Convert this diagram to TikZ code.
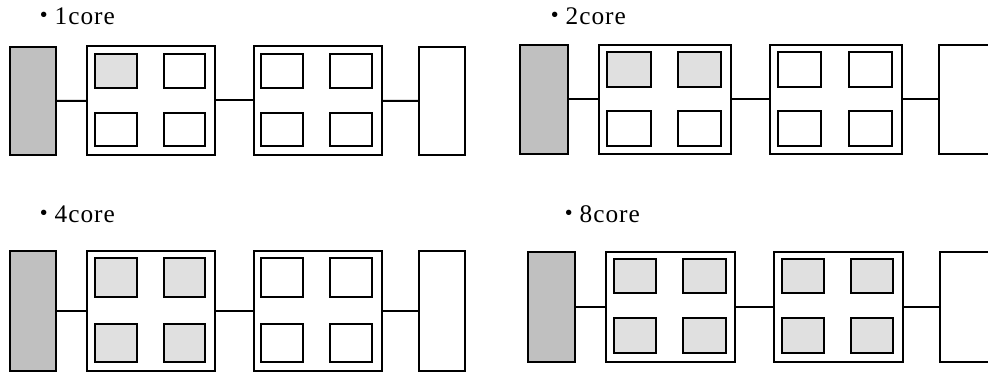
\documentclass[tikz,border=0pt]{standalone}
\usepackage{fontspec}
\setmainfont{Liberation Serif}[LetterSpace=4]
\newfontfamily\jpfont{Noto Sans CJK JP}
\usetikzlibrary{positioning,fit}
\definecolor{cpugray}{HTML}{C0C0C0}
\definecolor{coregray}{HTML}{E0E0E0}

\begin{document}
\begin{tikzpicture}[x=0.75pt, y=-0.75pt,
    cpu/.style={rectangle, draw, line width=1.5pt, fill=cpugray, inner sep=0pt},
    board/.style={rectangle, draw, line width=1.5pt, fill=white, inner sep=0pt},
    core/.style={rectangle, draw, line width=1.4pt, fill=white, inner sep=0pt},
    coreon/.style={core, fill=coregray},
    wire/.style={draw, line width=1.5pt},
    caption/.style={anchor=base west, inner sep=0pt, font=\fontsize{19pt}{21pt}\selectfont}]

    \useasboundingbox (0,0) rectangle (988,373);

    % 1core
    \node [caption] (t1) at (31,25) {{\jpfont ・}\kern-1.5pt 1core};
    \node [cpu, fit={(10,47) (56,155)}] (cpu1) {};
    \node [board, fit={(87,46) (215,155)}] (a1) {};
    \node [board, fit={(254,46) (382,155)}] (b1) {};
    \node [board, fit={(419,47) (465,155)}] (m1) {};
    \foreach \n/\xa/\ya/\xb/\yb/\st in {1/95/54/137/88/coreon, 2/164/54/205/88/core,
                                        3/95/113/137/146/core, 4/164/113/205/146/core}
        \node [\st, fit={(\xa,\ya) (\xb,\yb)}] (a1c\n) {};
    \foreach \n/\xa/\ya/\xb/\yb/\st in {1/261/54/303/88/core, 2/330/54/372/88/core,
                                        3/261/113/303/146/core, 4/330/113/372/146/core}
        \node [\st, fit={(\xa,\ya) (\xb,\yb)}] (b1c\n) {};
    \draw [wire] (cpu1) -- (a1);
    \draw [wire] (a1) -- (b1);
    \draw [wire] (b1) -- (m1);

    % 2core
    \node [caption] (t2) at (542,25) {{\jpfont ・}\kern-1.5pt 2core};
    \node [cpu, fit={(520,45) (568,154)}] (cpu2) {};
    \node [board, fit={(599,45) (731,154)}] (a2) {};
    \node [board, fit={(770,45) (902,154)}] (b2) {};
    \node [board, fit={(939,45) (992,154)}] (m2) {};
    \foreach \n/\xa/\ya/\xb/\yb/\st in {1/607/52/651/87/coreon, 2/678/52/721/87/coreon,
                                        3/607/111/651/146/core, 4/678/111/721/146/core}
        \node [\st, fit={(\xa,\ya) (\xb,\yb)}] (a2c\n) {};
    \foreach \n/\xa/\ya/\xb/\yb/\st in {1/778/52/821/87/core, 2/849/52/892/87/core,
                                        3/778/111/821/146/core, 4/849/111/892/146/core}
        \node [\st, fit={(\xa,\ya) (\xb,\yb)}] (b2c\n) {};
    \draw [wire] (cpu2) -- (a2);
    \draw [wire] (a2) -- (b2);
    \draw [wire] (b2) -- (m2);

    % 4core
    \node [caption] (t3) at (31,223) {{\jpfont ・}\kern-1.5pt 4core};
    \node [cpu, fit={(10,251) (56,371)}] (cpu3) {};
    \node [board, fit={(87,251) (215,371)}] (a3) {};
    \node [board, fit={(254,251) (382,371)}] (b3) {};
    \node [board, fit={(419,251) (465,371)}] (m3) {};
    \foreach \n/\xa/\ya/\xb/\yb/\st in {1/95/258/137/297/coreon, 2/164/258/205/297/coreon,
                                        3/95/324/137/362/coreon, 4/164/324/205/362/coreon}
        \node [\st, fit={(\xa,\ya) (\xb,\yb)}] (a3c\n) {};
    \foreach \n/\xa/\ya/\xb/\yb/\st in {1/261/258/303/297/core, 2/330/258/372/297/core,
                                        3/261/324/303/362/core, 4/330/324/372/362/core}
        \node [\st, fit={(\xa,\ya) (\xb,\yb)}] (b3c\n) {};
    \draw [wire] (cpu3) -- (a3);
    \draw [wire] (a3) -- (b3);
    \draw [wire] (b3) -- (m3);

    % 8core
    \node [caption] (t4) at (556,223) {{\jpfont ・}\kern-1.5pt 8core};
    \node [cpu, fit={(528,252) (575,362)}] (cpu4) {};
    \node [board, fit={(606,252) (735,362)}] (a4) {};
    \node [board, fit={(774,252) (903,362)}] (b4) {};
    \node [board, fit={(940,252) (992,362)}] (m4) {};
    \foreach \n/\xa/\ya/\xb/\yb/\st in {1/614/259/656/293/coreon, 2/683/259/726/293/coreon,
                                        3/614/318/656/353/coreon, 4/683/318/726/353/coreon}
        \node [\st, fit={(\xa,\ya) (\xb,\yb)}] (a4c\n) {};
    \foreach \n/\xa/\ya/\xb/\yb/\st in {1/782/259/824/293/coreon, 2/851/259/893/293/coreon,
                                        3/782/318/824/353/coreon, 4/851/318/893/353/coreon}
        \node [\st, fit={(\xa,\ya) (\xb,\yb)}] (b4c\n) {};
    \draw [wire] (cpu4) -- (a4);
    \draw [wire] (a4) -- (b4);
    \draw [wire] (b4) -- (m4);

\end{tikzpicture}
\end{document}
